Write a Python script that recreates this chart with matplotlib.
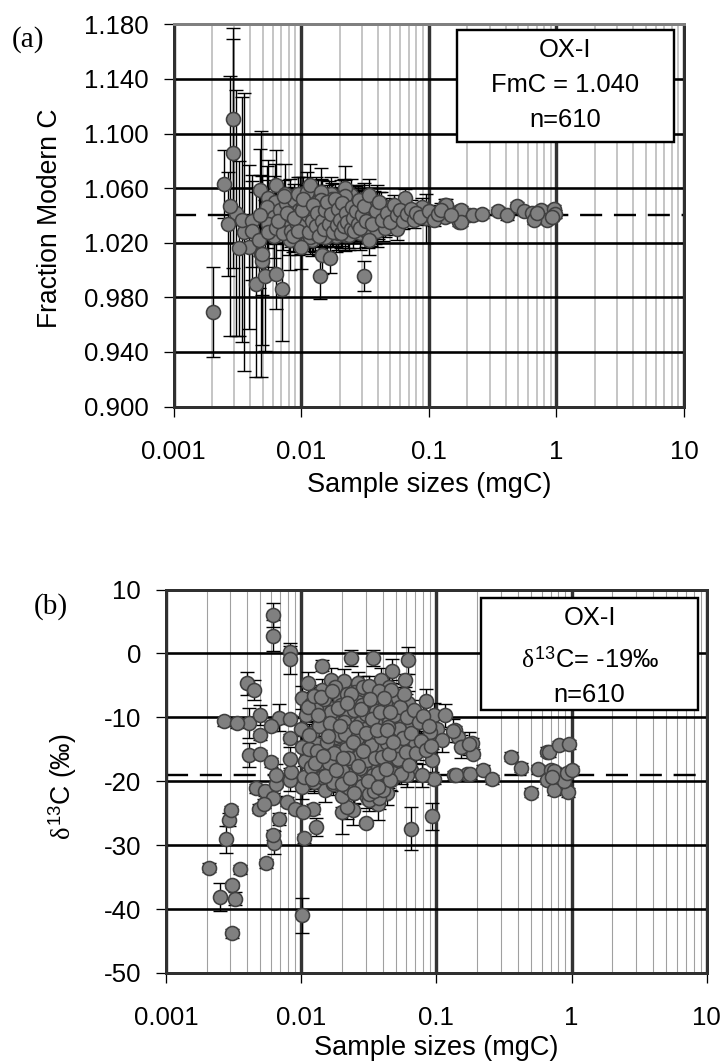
import matplotlib
matplotlib.use("Agg")
import matplotlib.pyplot as plt
from matplotlib.patches import Rectangle

plt.rcParams['font.family'] = ['Liberation Sans', 'DejaVu Sans']
plt.rcParams['mathtext.fontset'] = 'custom'
plt.rcParams['mathtext.rm'] = 'Liberation Sans'
plt.rcParams['mathtext.it'] = 'Liberation Serif'

# ---------- panel (a): Fraction Modern C ----------
a_huge_x = [0.00294, 0.00294, 0.00357, 0.00484, 0.0039, 0.00328, 0.0031, 0.00342, 0.0044, 0.0052, 0.0049]
a_huge_y = [1.111, 1.0856, 1.028, 1.012, 1.017, 1.016, 1.042, 1.037, 0.9895, 0.996, 1.007]
a_huge_e = [0.066, 0.084, 0.102, 0.090, 0.060, 0.064, 0.090, 0.090, 0.068, 0.055, 0.062]

a_large_x = [0.00249, 0.00205, 0.00279, 0.00269, 0.00414, 0.00414, 0.00467, 0.0049, 0.00634, 0.00703,
             0.00475, 0.00634, 0.00745, 0.00552, 0.00622, 0.00536, 0.00615, 0.00546, 0.00611, 0.00805,
             0.00815, 0.00815, 0.00552, 0.00475]
a_large_y = [1.063, 0.969, 1.047, 1.034, 1.036, 1.029, 1.022, 1.012, 0.9975, 0.986,
             1.059, 1.062, 1.056, 1.053, 1.050, 1.046, 1.039, 1.034, 1.025, 1.033,
             1.0466, 1.022, 1.028, 1.040]
a_large_e = [0.025, 0.033, 0.095, 0.038, 0.034, 0.036, 0.035, 0.030, 0.026, 0.038,
             0.030, 0.026, 0.022, 0.028, 0.028, 0.030, 0.030, 0.032, 0.030, 0.022,
             0.020, 0.022, 0.032, 0.030]

a_mid_x = [0.01, 0.0107, 0.0113, 0.011, 0.0112, 0.0117, 0.0142, 0.0142, 0.0168, 0.0182,
           0.024, 0.0264, 0.0222, 0.0222, 0.0236, 0.0173, 0.0153, 0.0128, 0.01416, 0.0147,
           0.0168, 0.0312, 0.034, 0.0095, 0.0088, 0.0102, 0.0104, 0.0115, 0.0122, 0.0125,
           0.013, 0.0134, 0.0138, 0.0145, 0.015, 0.0155, 0.016, 0.0165, 0.017, 0.0178,
           0.0185, 0.019, 0.0195, 0.02, 0.0205, 0.021, 0.0215, 0.0225, 0.023, 0.0245,
           0.025, 0.0255, 0.026, 0.027, 0.028, 0.0285, 0.029, 0.03, 0.031, 0.032]
a_mid_y = [1.017, 1.033, 1.0405, 1.0466, 1.057, 1.062, 1.0575, 1.0515, 1.046, 1.0375,
           1.041, 1.0495, 1.0605, 1.054, 1.026, 1.0295, 1.0246, 1.027, 0.996, 1.011,
           1.009, 0.996, 1.022, 1.029, 1.038, 1.044, 1.052, 1.028, 1.036, 1.048,
           1.032, 1.042, 1.025, 1.036, 1.030, 1.044, 1.050, 1.034, 1.041, 1.028,
           1.052, 1.033, 1.045, 1.037, 1.027, 1.049, 1.032, 1.042, 1.035, 1.030,
           1.046, 1.038, 1.029, 1.043, 1.034, 1.051, 1.031, 1.040, 1.047, 1.036]
a_mid_e = [0.016, 0.015, 0.014, 0.016, 0.015, 0.016, 0.017, 0.015, 0.014, 0.013,
           0.012, 0.012, 0.016, 0.012, 0.011, 0.012, 0.011, 0.014, 0.017, 0.014,
           0.011, 0.011, 0.011, 0.018, 0.017, 0.016, 0.016, 0.014, 0.015, 0.014,
           0.013, 0.013, 0.014, 0.012, 0.013, 0.012, 0.012, 0.012, 0.012, 0.011,
           0.011, 0.011, 0.011, 0.010, 0.011, 0.010, 0.010, 0.010, 0.010, 0.009,
           0.009, 0.009, 0.009, 0.009, 0.009, 0.008, 0.008, 0.008, 0.008, 0.008]

a_fine_x = [0.0338, 0.0388, 0.0487, 0.0649, 0.0451, 0.0566, 0.0881, 0.0953, 0.134, 0.134,
            0.173, 0.173, 0.208, 0.136, 0.179, 0.179, 0.221, 0.26, 0.346, 0.409,
            0.49, 0.558, 0.649, 0.69, 0.755, 0.84, 0.96, 0.97, 0.93, 0.67,
            0.71, 0.036, 0.041, 0.043, 0.047, 0.05, 0.053, 0.056, 0.06, 0.063,
            0.067, 0.072, 0.076, 0.08, 0.085, 0.1, 0.11, 0.118, 0.125, 0.15]
a_fine_y = [1.055, 1.043, 1.046, 1.0527, 1.031, 1.030, 1.046, 1.038, 1.048, 1.039,
            1.0436, 1.035, 1.040, 1.048, 1.044, 1.035, 1.040, 1.041, 1.043, 1.040,
            1.0466, 1.043, 1.042, 1.039, 1.044, 1.037, 1.045, 1.041, 1.039, 1.037,
            1.042, 1.034, 1.050, 1.037, 1.042, 1.035, 1.048, 1.040, 1.044, 1.036,
            1.041, 1.045, 1.037, 1.042, 1.039, 1.043, 1.037, 1.041, 1.044, 1.040]
a_fine_e = [0.012, 0.008, 0.007, 0.007, 0.007, 0.008, 0.007, 0.018, 0.004, 0.004,
            0.003, 0.003, 0.003, 0.004, 0.003, 0.003, 0.003, 0.003, 0.003, 0.003,
            0.003, 0.003, 0.003, 0.003, 0.003, 0.003, 0.003, 0.003, 0.003, 0.003,
            0.003, 0.008, 0.007, 0.008, 0.007, 0.007, 0.007, 0.007, 0.006, 0.006,
            0.006, 0.006, 0.006, 0.006, 0.006, 0.005, 0.005, 0.005, 0.005, 0.004]

a_fill_x = [0.0064, 0.0068, 0.0072, 0.0076, 0.008, 0.0084, 0.0088, 0.0092, 0.0096, 0.01,
            0.0104, 0.0108, 0.0112, 0.0116, 0.012, 0.0124, 0.0128, 0.0132, 0.0136, 0.014,
            0.0144, 0.0148, 0.0152, 0.0156, 0.016, 0.0164, 0.0168, 0.0172, 0.0176, 0.018,
            0.0186, 0.0192, 0.0198, 0.0204, 0.021, 0.0216, 0.0222, 0.0228, 0.0234, 0.024,
            0.0248, 0.0256, 0.0264, 0.0272, 0.028, 0.0288, 0.0296, 0.0304, 0.0312, 0.032,
            0.033, 0.034, 0.035, 0.036, 0.037, 0.038, 0.039, 0.04, 0.042, 0.044,
            0.0066, 0.0074, 0.0082, 0.009, 0.0098, 0.0106, 0.0114, 0.0122, 0.013, 0.0138,
            0.0146, 0.0154, 0.0162, 0.017, 0.0178, 0.0188, 0.0196, 0.0206, 0.0218, 0.0232,
            0.0078, 0.0086, 0.0094, 0.0101, 0.0109, 0.0117, 0.0125, 0.0133, 0.0141, 0.0149,
            0.0157, 0.0165, 0.0173, 0.0181, 0.0189, 0.0197, 0.0208, 0.022, 0.0235, 0.025,
            0.0265, 0.0282, 0.03, 0.0318, 0.0335, 0.0355, 0.0375, 0.0395, 0.0415, 0.046]
a_fill_y = [1.031, 1.044, 1.027, 1.049, 1.037, 1.029, 1.051, 1.034, 1.044, 1.024,
            1.047, 1.036, 1.028, 1.052, 1.041, 1.026, 1.045, 1.033, 1.054, 1.038,
            1.027, 1.048, 1.035, 1.043, 1.026, 1.053, 1.037, 1.047, 1.031, 1.042,
            1.025, 1.049, 1.036, 1.054, 1.030, 1.043, 1.026, 1.050, 1.037, 1.032,
            1.055, 1.028, 1.044, 1.036, 1.050, 1.027, 1.042, 1.033, 1.052, 1.029,
            1.045, 1.036, 1.030, 1.048, 1.039, 1.031, 1.050, 1.035, 1.045, 1.033,
            1.036, 1.054, 1.040, 1.026, 1.056, 1.031, 1.049, 1.022, 1.056, 1.029,
            1.054, 1.029, 1.046, 1.056, 1.036, 1.044, 1.027, 1.040, 1.055, 1.046,
            1.042, 1.025, 1.056, 1.034, 1.044, 1.024, 1.039, 1.050, 1.030, 1.048,
            1.024, 1.044, 1.052, 1.035, 1.029, 1.041, 1.047, 1.034, 1.028, 1.041,
            1.034, 1.046, 1.050, 1.041, 1.028, 1.043, 1.046, 1.029, 1.040, 1.038]
a_fill_e = [0.012] * len(a_fill_x)

# ---------- panel (b): delta 13C ----------
b_wide_x = [0.00615, 0.00615, 0.0082, 0.0082, 0.00395, 0.00448, 0.00414, 0.00499, 0.0068, 0.00414,
            0.0235, 0.0341, 0.0615, 0.0471, 0.0584, 0.0143, 0.0102, 0.0647, 0.0934, 0.02,
            0.0301, 0.0243, 0.0372, 0.0122, 0.00279, 0.00293, 0.0063, 0.00684, 0.0129, 0.00615,
            0.0025, 0.00308, 0.00326]
b_wide_y = [6.0, 2.8, 0.2, -0.8, -4.7, -5.7, -10.9, -9.6, -10.05, -15.9,
            -0.7, -0.7, -1.1, -2.8, -4.2, -1.9, -41.0, -27.4, -25.5, -24.8,
            -26.5, -24.5, -23.6, -24.3, -29.1, -26.0, -29.6, -25.9, -27.1, -28.4,
            -38.1, -36.2, -38.4]
b_wide_e = [1.9, 2.4, 1.0, 2.4, 1.8, 1.6, 2.3, 1.6, 2.1, 1.9,
            1.2, 1.2, 2.1, 1.9, 1.0, 0.9, 2.7, 3.3, 2.1, 3.5,
            0.5, 2.3, 2.5, 0.8, 2.1, 1.0, 1.8, 0.9, 1.4, 0.8,
            2.2, 0.5, 1.0]

b_tight_x = [0.0027, 0.00336, 0.00597, 0.00499, 0.0082, 0.0082, 0.00499, 0.00597, 0.0046, 0.00543,
             0.00618, 0.00485, 0.00527, 0.00784, 0.00893, 0.0103, 0.0105, 0.00552, 0.00301, 0.00209,
             0.00353, 0.00308, 0.0961, 0.135, 0.169, 0.137, 0.144, 0.156, 0.182, 0.187,
             0.14, 0.177, 0.22, 0.256, 0.355, 0.426, 0.499, 0.565, 0.654, 0.68,
             0.807, 0.961, 0.7, 0.741, 0.662, 0.741, 0.94, 0.887, 0.929, 1.01,
             0.72]
b_tight_y = [-10.6, -10.9, -11.4, -12.8, -10.3, -13.3, -15.8, -17.0, -21.1, -21.6,
             -22.6, -24.3, -23.5, -23.2, -24.3, -24.8, -28.9, -32.8, -24.5, -33.5,
             -33.8, -43.8, -19.7, -19.1, -18.9, -12.0, -13.1, -14.6, -14.0, -15.7,
             -19.1, -18.9, -18.2, -19.7, -16.2, -17.9, -21.8, -18.1, -15.4, -15.5,
             -14.4, -14.2, -18.3, -18.4, -19.8, -21.4, -21.7, -20.0, -18.7, -18.3,
             -19.3]
b_tight_e = [0.7] * len(b_tight_x)

b_core_x = [0.0113, 0.0102, 0.0143, 0.0166, 0.0206, 0.0263, 0.0391, 0.0445, 0.084, 0.0961,
            0.101, 0.132, 0.151, 0.174, 0.0893, 0.0681, 0.0647, 0.0611, 0.0789, 0.0428,
            0.0308, 0.022, 0.0202, 0.0149, 0.0102, 0.0082, 0.00654, 0.00654, 0.00843, 0.0105,
            0.0125, 0.0171, 0.0224, 0.0306, 0.0391, 0.0324, 0.0488, 0.0571, 0.0471, 0.0344,
            0.0243, 0.0181, 0.0143, 0.0102, 0.0082, 0.0106, 0.0143, 0.0167, 0.012, 0.0099,
            0.0108, 0.0167, 0.0143, 0.0263, 0.0263, 0.0223, 0.0443, 0.0565, 0.0482, 0.0597,
            0.0327, 0.0242, 0.0164, 0.0143, 0.115, 0.11, 0.0934, 0.0891,
            0.019, 0.021, 0.023, 0.025, 0.027, 0.029, 0.031, 0.033, 0.035, 0.037,
            0.04, 0.042, 0.046, 0.05, 0.054, 0.019, 0.021, 0.023, 0.025, 0.027,
            0.029, 0.031, 0.033, 0.035, 0.038, 0.041, 0.044, 0.048, 0.052, 0.056,
            0.018, 0.02, 0.022, 0.024, 0.026, 0.028, 0.03, 0.032, 0.034, 0.036,
            0.039, 0.043, 0.047, 0.051, 0.015, 0.013, 0.0118, 0.0175, 0.0195, 0.0215,
            0.0245, 0.0275, 0.0295, 0.0315, 0.0335, 0.0355, 0.0375, 0.0405, 0.0435, 0.0465,
            0.0155, 0.0135, 0.0125, 0.0178, 0.0198, 0.0218, 0.0248, 0.0278, 0.0298, 0.0318,
            0.0338, 0.0358, 0.0378, 0.0408, 0.07, 0.075, 0.066, 0.062, 0.0115, 0.0128]
b_core_y = [-4.7, -6.9, -5.8, -4.1, -4.3, -4.7, -4.1, -5.3, -7.4, -9.6,
            -11.9, -12.1, -14.6, -14.1, -13.3, -14.3, -18.2, -19.1, -19.1, -21.9,
            -22.4, -24.1, -22.3, -21.4, -20.9, -19.8, -20.5, -19.1, -18.5, -19.4,
            -19.8, -20.4, -17.9, -19.3, -19.7, -17.4, -17.2, -16.7, -15.6, -14.2,
            -15.5, -14.5, -15.1, -14.7, -16.5, -16.8, -16.6, -12.4, -12.5, -11.9,
            -9.6, -10.1, -11.1, -9.7, -12.5, -11.9, -13.3, -11.4, -9.2, -8.2,
            -7.4, -7.2, -8.5, -8.75, -9.7, -13.6, -16.7, -12.3,
            -6.5, -8.2, -10.2, -6.1, -13.8, -9.1, -6.6, -11.6, -8.6, -14.6,
            -7.1, -10.6, -8.4, -11.1, -9.9, -18.6, -16.3, -19.1, -17.1, -20.3,
            -15.1, -21.3, -18.8, -16.4, -20.6, -15.4, -18.1, -14.7, -13.1, -15.9,
            -10.9, -13.1, -9.4, -15.9, -14.2, -5.9, -10.4, -13.1, -20.9, -12.4,
            -12.9, -6.4, -16.2, -7.7, -18.3, -14.1, -7.9, -17.4, -7.1, -20.8,
            -21.8, -16.7, -12.1, -14.4, -9.6, -17.9, -16.0, -19.0, -10.2, -19.8,
            -10.4, -17.1, -20.1, -15.2, -18.6, -13.7, -11.1, -9.0, -19.6, -22.9,
            -7.3, -12.2, -22.6, -17.1, -13.9, -10.6, -11.4, -7.7, -15.0, -8.7]
b_core_e = [1.8] * len(b_core_x)

b_fill_x = [0.0112, 0.0118, 0.0124, 0.013, 0.0136, 0.0142, 0.0148, 0.0154, 0.016, 0.0166,
            0.0172, 0.0178, 0.0184, 0.019, 0.0196, 0.0202, 0.0208, 0.0214, 0.022, 0.0226,
            0.0232, 0.0238, 0.0244, 0.025, 0.0256, 0.0262, 0.0268, 0.0274, 0.028, 0.0286,
            0.0292, 0.0298, 0.0304, 0.031, 0.0316, 0.0322, 0.0328, 0.0334, 0.034, 0.0346,
            0.0352, 0.0358, 0.0364, 0.037, 0.0376, 0.0382, 0.0388, 0.0394, 0.04, 0.0408,
            0.0416, 0.0424, 0.0432, 0.044, 0.0448, 0.0456, 0.0464, 0.0472, 0.048, 0.049,
            0.05, 0.051, 0.052, 0.053, 0.054, 0.055, 0.0565, 0.058, 0.0595, 0.061,
            0.063, 0.065, 0.068, 0.071, 0.074, 0.077, 0.08, 0.084, 0.088, 0.092,
            0.0115, 0.0127, 0.0139, 0.0151, 0.0163, 0.0175, 0.0187, 0.0199, 0.0211, 0.0223,
            0.0235, 0.0247, 0.0259, 0.0271, 0.0283, 0.0295, 0.0307, 0.0319, 0.0331, 0.0343,
            0.0355, 0.0367, 0.0379, 0.0391, 0.0403, 0.0415, 0.0427, 0.0439, 0.0451, 0.0463,
            0.0121, 0.0133, 0.0145, 0.0157, 0.0169, 0.0181, 0.0193, 0.0205, 0.0217, 0.0229,
            0.0241, 0.0253, 0.0265, 0.0277, 0.0289, 0.0301, 0.0313, 0.0325, 0.0337, 0.0349,
            0.0361, 0.0373, 0.0385, 0.0397, 0.0409, 0.0421, 0.0433, 0.0445, 0.0457, 0.0475]
b_fill_y = [-8.4, -17.7, -6.6, -15.2, -11.3, -19.4, -7.1, -13.8, -17.1, -9.2,
            -20.1, -5.3, -15.4, -12.7, -8.0, -18.2, -10.8, -14.9, -6.3, -21.0,
            -12.1, -16.8, -8.9, -19.6, -13.5, -7.6, -16.0, -10.9, -20.7, -5.2,
            -14.6, -18.4, -9.5, -12.9, -22.0, -6.9, -15.6, -11.0, -19.0, -8.3,
            -13.4, -21.2, -6.0, -17.6, -10.3, -15.0, -7.9, -20.3, -12.8, -9.4,
            -17.0, -6.2, -14.0, -19.4, -10.8, -15.9, -7.5, -12.2, -18.7, -9.7,
            -14.9, -6.8, -16.5, -11.8, -8.4, -18.9, -13.2, -6.4, -15.5, -10.0,
            -17.4, -12.4, -8.9, -15.6, -10.8, -13.7, -9.8, -15.1, -11.3, -14.5,
            -12.7, -17.1, -6.8, -19.2, -10.9, -15.6, -8.6, -20.5, -12.6, -16.3,
            -6.3, -21.8, -13.3, -18.0, -8.1, -11.9, -16.7, -5.1, -14.3, -21.6,
            -9.0, -18.7, -5.9, -13.0, -21.3, -7.8, -17.7, -11.5, -19.8, -5.8,
            -19.6, -9.6, -16.0, -12.9, -5.9, -18.2, -11.4, -16.4, -7.7, -19.5,
            -13.9, -11.5, -17.6, -8.7, -15.2, -12.4, -19.9, -7.1, -10.2, -16.3,
            -12.0, -20.9, -9.1, -16.2, -6.9, -18.1, -12.0, -15.7, -9.1, -13.8]
b_fill_e = [1.6] * len(b_fill_x)

# ---------- labels ----------
x_ticks = [0.001, 0.01, 0.1, 1, 10]
x_tick_labels = ['0.001', '0.01', '0.1', '1', '10']
a_y_ticks = [0.900, 0.940, 0.980, 1.020, 1.060, 1.100, 1.140, 1.180]
b_y_ticks = [-50, -40, -30, -20, -10, 0, 10]
a_ref = 1.040
b_ref = -19
a_box_lines = ['OX-I', 'FmC = 1.040', 'n=610']
b_box_lines = ['OX-I', r'$\delta^{13}$C= -19‰', 'n=610']

W, H = 724, 1063
fig = plt.figure(figsize=(W / 100, H / 100), dpi=100)


def px(v):
    return v * 72 / 100


def panel(rect, ylim, yticks, yfmt, ylabel, ylabel_xy, ref, groups, minor_color, minor_lw, box, lines, line_y,
          letter, letter_xy, xlabel_y, top_color):
    l, t, r, b = rect
    ax = fig.add_axes([l / W, 1 - b / H, (r - l) / W, (b - t) / H])
    ax.set_xscale('log')
    ax.set_xlim(0.001, 10)
    ax.set_ylim(*ylim)
    ax.set_xticks(x_ticks, x_tick_labels)
    minor = [m * d for d in [0.001, 0.01, 0.1, 1] for m in range(2, 10)]
    ax.set_xticks(minor, minor=True)
    ax.set_xticklabels([], minor=True)
    ax.set_yticks(yticks, [yfmt(v) for v in yticks])
    ax.tick_params(axis='x', which='minor', length=0)
    ax.tick_params(axis='both', which='major', length=px(10), width=px(1.3), labelsize=18.6, colors='black')
    ax.tick_params(axis='x', which='major', pad=px(23))
    ax.tick_params(axis='y', which='major', pad=px(15))
    ax.grid(True, axis='x', which='minor', color=minor_color, lw=px(minor_lw), zorder=1)
    ax.grid(True, axis='x', which='major', color='#333333', lw=px(3.4), zorder=1.2)
    ax.grid(True, axis='y', which='major', color='black', lw=px(2.6), zorder=1.4)
    ax.set_axisbelow(True)
    for k, s in ax.spines.items():
        s.set_color('#303030')
        s.set_linewidth(px(3))
    ax.spines['top'].set_color(top_color)
    ax.axhline(ref, color='black', lw=px(2.4), ls=(0, (9.2, 4.9)), zorder=2)
    for x, y, e in groups:
        ax.errorbar(x, y, yerr=e, fmt='none', ecolor='black', elinewidth=px(1.4),
                    capsize=px(7), capthick=px(1.4), zorder=3)
    for x, y, e in groups:
        ax.plot(x, y, ls='none', marker='o', ms=px(14), mfc='#808080', mec='#404040', mew=px(1.6), zorder=4)
    fig.text(ylabel_xy[0] / W, 1 - ylabel_xy[1] / H, ylabel, fontsize=19.1, rotation=90, ha='center', va='center')
    bl, bt, br, bb = box
    fig.add_artist(Rectangle((bl / W, 1 - bb / H), (br - bl) / W, (bb - bt) / H, fc='white', ec='black',
                             lw=px(2.4), transform=fig.transFigure, zorder=6))
    cx = (bl + br) / 2
    for s, yy in zip(lines, line_y):
        fig.text(cx / W, 1 - yy / H, s, ha='center', va='center', fontsize=18.4, zorder=7)
    fig.text(letter_xy[0] / W, 1 - letter_xy[1] / H, letter, family='Liberation Serif',
             fontsize=21, ha='center', va='center')
    fig.text((l + r) / 2 / W, 1 - xlabel_y / H, 'Sample sizes (mgC)', fontsize=19.5, ha='center', va='center')
    return ax


panel((173.5, 24.4, 684, 406.6), (0.9, 1.18), a_y_ticks, lambda v: f'{v:.3f}', 'Fraction Modern C', (50, 218), a_ref,
      [(a_huge_x, a_huge_y, a_huge_e), (a_large_x, a_large_y, a_large_e), (a_fill_x, a_fill_y, a_fill_e),
       (a_mid_x, a_mid_y, a_mid_e), (a_fine_x, a_fine_y, a_fine_e)],
      '#b4b4b4', 1.5, (456.7, 30, 674, 142), a_box_lines, (50, 85, 120), '(a)', (28, 40), 485, '#808080')
panel((166, 589.5, 706.7, 973), (-50, 10), b_y_ticks, lambda v: f'{v:d}', r'$\delta^{13}$C (‰)', (63, 787), b_ref,
      [(b_wide_x, b_wide_y, b_wide_e), (b_tight_x, b_tight_y, b_tight_e), (b_core_x, b_core_y, b_core_e),
       (b_fill_x, b_fill_y, b_fill_e)],
      '#a0a0a0', 1.1, (481.3, 598, 698, 710), b_box_lines, (618, 660, 695), '(b)', (51, 607), 1048, '#303030')

fig.savefig('out.png', dpi=100)
